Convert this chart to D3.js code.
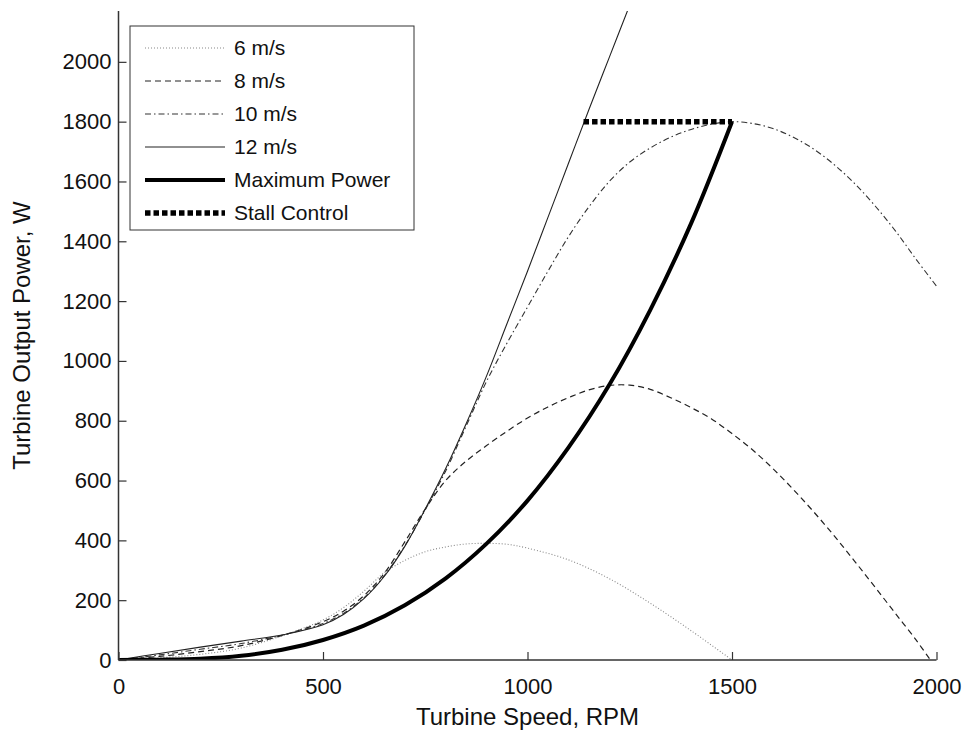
<!DOCTYPE html>
<html><head><meta charset="utf-8">
<script src="https://cdn.jsdelivr.net/npm/d3@7"></script>
<style>
body{margin:0;background:#fff}
svg{display:block}
text{font-family:"Liberation Sans",Arial,Helvetica,sans-serif;fill:#111}
</style>
</head><body>
<svg id="chart" width="972" height="733"></svg>
<script>
// ---- data ----
const rpm6  = [0,100,200,300,415,500,550,600,650,700,750,800,850,900,950,1000,1100,1200,1300,1400,1500];
const pow6  = [0,7,19,40,88,134,175,230,292,333,362,378,388,390,387,374,335,272,190,98,0];

const rpm8  = [0,100,200,300,415,500,550,600,650,700,750,800,850,900,950,1000,1050,1100,1150,1200,1250,1300,1350,1400,1450,1500,1550,1600,1650,1700,1750,1800,1850,1900,1950,1985];
const pow8  = [0,12,28,48,88,128,163,215,290,395,505,600,665,717,765,809,846,877,903,918,919,905,877,844,806,757,703,640,570,495,415,330,243,155,67,0];

const rpm10 = [0,100,200,300,415,500,550,600,650,700,750,800,850,900,950,1000,1050,1100,1150,1200,1250,1300,1350,1400,1450,1500,1550,1600,1650,1700,1750,1800,1850,1900,1950,2000];
const pow10 = [0,17,36,55,88,122,156,208,282,382,502,632,782,932,1060,1180,1300,1415,1515,1600,1665,1712,1748,1774,1792,1800,1794,1777,1748,1708,1656,1593,1518,1434,1340,1250];

const rpm12 = [0,100,200,300,415,500,550,600,650,700,750,800,850,900,950,1000,1050,1100,1150,1200,1250];
const pow12 = [0,22,43,63,88,118,152,205,280,380,505,640,790,950,1125,1300,1480,1660,1840,2015,2190];

const rpmMax = [0,100,200,300,400,500,600,700,800,900,1000,1100,1200,1300,1400,1500];
const powMax = [0,1,4,14,34,67,115,183,273,389,533,710,920,1170,1460,1800];

const rpmStall = [1137,1500];
const powStall = [1800,1800];

const xTicks = [0,500,1000,1500,2000];
const yTicks = [0,200,400,600,800,1000,1200,1400,1600,1800,2000];

const seriesNames = ["6 m/s","8 m/s","10 m/s","12 m/s","Maximum Power","Stall Control"];

// ---- chart ----
const svg = d3.select("#chart");
const x = d3.scaleLinear().domain([0,2000]).range([118.5,936.5]);
const y = d3.scaleLinear().domain([0,2170]).range([660,11]);

const styles = [
  {stroke:"#888", width:1.1, dash:"1,2"},
  {stroke:"#222", width:1.2, dash:"6,4"},
  {stroke:"#333", width:1.1, dash:"6,3,1.5,3"},
  {stroke:"#222", width:1.1, dash:null},
  {stroke:"#000", width:4, dash:null},
  {stroke:"#000", width:5.5, dash:"5.5,3"}
];
const data = [
  d3.zip(rpm6,pow6), d3.zip(rpm8,pow8), d3.zip(rpm10,pow10),
  d3.zip(rpm12,pow12), d3.zip(rpmMax,powMax), d3.zip(rpmStall,powStall)
];

svg.append("defs").append("clipPath").attr("id","clip")
  .append("rect").attr("x",x(0)).attr("y",y(2170)).attr("width",x(2000)-x(0)+3).attr("height",y(0)-y(2170));

const line = d3.line().x(d=>x(d[0])).y(d=>y(d[1])).curve(d3.curveCatmullRom.alpha(0.5));
const g = svg.append("g").attr("clip-path","url(#clip)");
data.forEach((d,i)=>{
  g.append("path").attr("d",line(d)).attr("fill","none")
    .attr("stroke",styles[i].stroke).attr("stroke-width",styles[i].width)
    .attr("stroke-dasharray",styles[i].dash).attr("stroke-linejoin","miter");
});

// axes (ticks inward)
const xAxis = d3.axisBottom(x).tickValues(xTicks).tickSize(-8).tickPadding(18).tickFormat(d3.format("d"));
const yAxis = d3.axisLeft(y).tickValues(yTicks).tickSize(-8).tickPadding(7).tickFormat(d3.format("d"));
const gx = svg.append("g").attr("transform",`translate(0,${y(0)})`).call(xAxis);
const gy = svg.append("g").attr("transform",`translate(${x(0)},0)`).call(yAxis);
[gx,gy].forEach(a=>{
  a.select(".domain").attr("stroke","#333").attr("stroke-width",1.5);
  a.selectAll(".tick line").attr("stroke","#333").attr("stroke-width",1.2);
  a.selectAll(".tick text").attr("font-size",22).attr("fill","#111")
   .attr("font-family",'"Liberation Sans",Arial,sans-serif');
});
gy.select(".domain").attr("d",`M0,${y(0)}V${y(2170)}`);
gx.select(".domain").attr("d",`M${x(0)},0H${x(2000)}`);

svg.append("text").attr("x",(x(0)+x(2000))/2).attr("y",725).attr("text-anchor","middle")
  .attr("font-size",24).text("Turbine Speed, RPM");
svg.append("text").attr("transform",`translate(30,${(y(0)+y(2170))/2}) rotate(-90)`)
  .attr("text-anchor","middle").attr("font-size",24).text("Turbine Output Power, W");

// legend
const lg = svg.append("g");
lg.append("rect").attr("x",130).attr("y",26).attr("width",284).attr("height",204)
  .attr("fill","#fff").attr("stroke","#333").attr("stroke-width",1);
seriesNames.forEach((n,i)=>{
  const yy = 48 + i*33;
  lg.append("line").attr("x1",145).attr("x2",225).attr("y1",yy).attr("y2",yy)
    .attr("stroke",styles[i].stroke).attr("stroke-width",styles[i].width)
    .attr("stroke-dasharray",styles[i].dash);
  lg.append("text").attr("x",234).attr("y",yy).attr("dy","0.35em")
    .attr("font-size",21).text(n);
});
</script>
</body></html>
